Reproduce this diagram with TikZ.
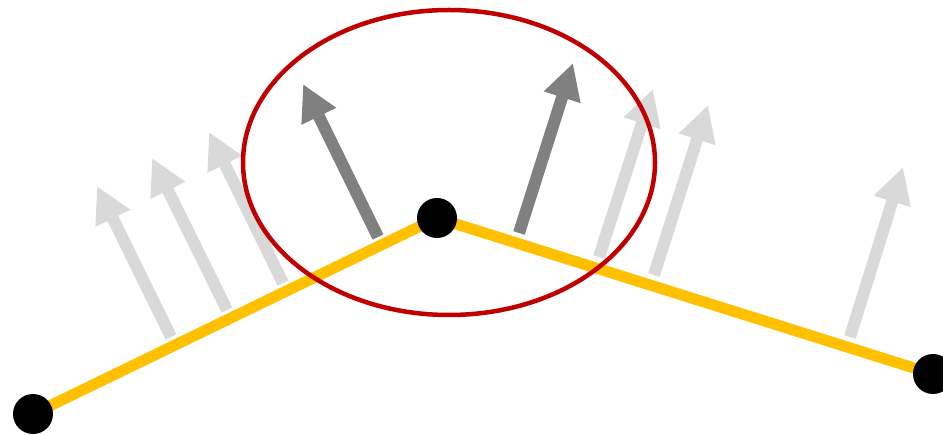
\documentclass[tikz,border=0pt]{standalone}
\usepackage{tikz}
\usetikzlibrary{arrows.meta}

\definecolor{segyellow}{HTML}{FFC000}
\definecolor{normdark}{HTML}{808080}
\definecolor{normlight}{HTML}{D9D9D9}
\definecolor{ringred}{HTML}{C00000}

\begin{document}
\begin{tikzpicture}[
  x=1pt, y=-1pt,
  seg/.style={draw=segyellow, line width=11pt, line join=round},
  vtx/.style={circle, fill=black, inner sep=0pt, minimum size=40pt},
  normal/.style={draw=normlight, line width=12pt,
    -{Triangle[length=36pt,width=36pt]}},
  normalhi/.style={normal, draw=normdark},
  ring/.style={draw=ringred, line width=4.5pt}
]
\useasboundingbox (0,0) rectangle (943,435);

% ===================== Vertices =====================
\coordinate (P1) at (33,414);
\coordinate (P2) at (437,218);
\coordinate (P3) at (933,374);

% ===================== Normals, left segment =====================
\coordinate (L1a) at (171,337); \coordinate (L1b) at (97,186);
\coordinate (L2a) at (227,310); \coordinate (L2b) at (152,158);
\coordinate (L3a) at (283,283); \coordinate (L3b) at (209,132);
\coordinate (L4a) at (378,237); \coordinate (L4b) at (303,84);   % near vertex

\draw[normal] (L1a) -- (L1b);
\draw[normal] (L2a) -- (L2b);
\draw[normal] (L3a) -- (L3b);
\draw[normalhi] (L4a) -- (L4b);

% ===================== Normals, right segment =====================
\coordinate (R1a) at (519,233); \coordinate (R1b) at (573,63);   % near vertex
\coordinate (R2a) at (599,257); \coordinate (R2b) at (653,89);
\coordinate (R3a) at (654,275); \coordinate (R3b) at (708,105);
\coordinate (R4a) at (850,337); \coordinate (R4b) at (903,167);

\draw[normalhi] (R1a) -- (R1b);
\draw[normal] (R2a) -- (R2b);
\draw[normal] (R3a) -- (R3b);
\draw[normal] (R4a) -- (R4b);

% ===================== Polyline =====================
\draw[seg] (P1) -- (P2) -- (P3);

\node[vtx] (v1) at (P1) {};
\node[vtx] (v2) at (P2) {};
\node[vtx] (v3) at (P3) {};

% ===================== Neighbourhood =====================
\draw[ring] (449,162.5) ellipse [x radius=206, y radius=152.5];

\end{tikzpicture}
\end{document}
